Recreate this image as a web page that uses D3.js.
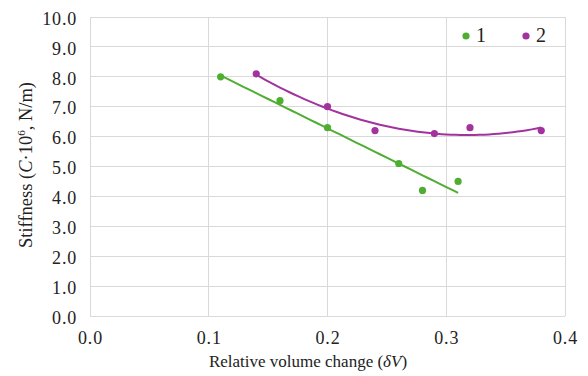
<!DOCTYPE html>
<html><head><meta charset="utf-8">
<script src="https://cdn.jsdelivr.net/npm/d3@7"></script>
</head><body style="margin:0;background:#fff"><svg id="c" width="588" height="376" font-family="Liberation Serif"></svg>
<script>
const xTicks=[0.0,0.1,0.2,0.3,0.4];
const yTicks=[0,1,2,3,4,5,6,7,8,9,10];
const s1x=[0.11,0.16,0.20,0.26,0.28,0.31];
const s1y=[8.0,7.2,6.3,5.1,4.2,4.5];
const s2x=[0.14,0.20,0.24,0.29,0.32,0.38];
const s2y=[8.1,7.0,6.2,6.1,6.3,6.2];
const seriesNames=["1","2"];
const colors=["#4fae32","#a2339e"];
const FF="Liberation Serif", TC="#222";

const svg=d3.select("#c");
const x=d3.scaleLinear().domain([0,0.4]).range([90,565]);
const y=d3.scaleLinear().domain([0,10]).range([316,17]);

svg.append("g").selectAll("line").data(yTicks).join("line")
 .attr("x1",90).attr("x2",565).attr("y1",d=>y(d)).attr("y2",d=>y(d))
 .attr("stroke","#d9d9d9").attr("stroke-width",1).attr("shape-rendering","crispEdges");
svg.append("g").selectAll("line").data(xTicks).join("line")
 .attr("y1",17).attr("y2",316).attr("x1",d=>x(d)).attr("x2",d=>x(d))
 .attr("stroke","#d9d9d9").attr("stroke-width",1).attr("shape-rendering","crispEdges");

const ya=svg.append("g").attr("transform","translate(90,0)")
 .call(d3.axisLeft(y).tickValues(yTicks).tickFormat(d3.format(".1f")).tickSize(0).tickPadding(13));
ya.attr("font-family",FF).attr("font-size",18);
ya.select(".domain").remove();
ya.selectAll("text").attr("font-family",FF).attr("font-size",18).attr("fill",TC).attr("dy","0.4em").attr("letter-spacing",0.8);
const xa=svg.append("g").attr("transform","translate(0,316)")
 .call(d3.axisBottom(x).tickValues(xTicks).tickFormat(d3.format(".1f")).tickSize(0).tickPadding(15));
xa.attr("font-family",FF).attr("font-size",18);
xa.select(".domain").remove();
xa.selectAll("text").attr("font-family",FF).attr("font-size",18).attr("fill",TC).attr("letter-spacing",0.8);

function linfit(xs,ys){const n=xs.length,mx=d3.mean(xs),my=d3.mean(ys);
 let sxy=0,sxx=0;for(let i=0;i<n;i++){sxy+=(xs[i]-mx)*(ys[i]-my);sxx+=(xs[i]-mx)**2;}
 const b=sxy/sxx;return v=>my+b*(v-mx);}
function quadfit(xs,ys){
 const S=k=>d3.sum(xs,v=>v**k), T=k=>d3.sum(xs.map((v,i)=>ys[i]*v**k));
 const A=[[S(0),S(1),S(2),T(0)],[S(1),S(2),S(3),T(1)],[S(2),S(3),S(4),T(2)]];
 for(let i=0;i<3;i++){for(let j=i+1;j<3;j++){const f=A[j][i]/A[i][i];for(let k=i;k<4;k++)A[j][k]-=f*A[i][k];}}
 const c=[0,0,0];for(let i=2;i>=0;i--){let s=A[i][3];for(let k=i+1;k<3;k++)s-=A[i][k]*c[k];c[i]=s/A[i][i];}
 return v=>c[0]+c[1]*v+c[2]*v*v;}
const f1=linfit(s1x,s1y), f2=quadfit(s2x,s2y);
const line=d3.line().x(d=>x(d[0])).y(d=>y(d[1]));
const xs1=d3.range(0,41).map(i=>d3.min(s1x)+(d3.max(s1x)-d3.min(s1x))*i/40);
const xs2=d3.range(0,61).map(i=>d3.min(s2x)+(d3.max(s2x)-d3.min(s2x))*i/60);
svg.append("path").attr("d",line(xs1.map(v=>[v,f1(v)]))).attr("fill","none").attr("stroke",colors[0]).attr("stroke-width",2);
svg.append("path").attr("d",line(xs2.map(v=>[v,f2(v)]))).attr("fill","none").attr("stroke",colors[1]).attr("stroke-width",2);

svg.append("g").selectAll("circle").data(s1x.map((v,i)=>[v,s1y[i]])).join("circle")
 .attr("cx",d=>x(d[0])).attr("cy",d=>y(d[1])).attr("r",3.6).attr("fill",colors[0]);
svg.append("g").selectAll("circle").data(s2x.map((v,i)=>[v,s2y[i]])).join("circle")
 .attr("cx",d=>x(d[0])).attr("cy",d=>y(d[1])).attr("r",3.6).attr("fill",colors[1]);

const lg=[[466,476],[526,536]];
seriesNames.forEach((n,i)=>{
 svg.append("circle").attr("cx",lg[i][0]).attr("cy",36).attr("r",3.6).attr("fill",colors[i]);
 svg.append("text").attr("x",lg[i][1]).attr("y",42).attr("font-family",FF).attr("font-size",20).attr("fill",TC).text(n);
});

const xt=svg.append("text").attr("x",308).attr("y",367).attr("text-anchor","middle").attr("font-family",FF).attr("font-size",17).attr("fill",TC);
xt.append("tspan").text("Relative volume change (");
xt.append("tspan").attr("font-style","italic").text("δV");
xt.append("tspan").text(")");
const yt=svg.append("text").attr("transform","translate(32,165) rotate(-90)").attr("text-anchor","middle").attr("font-family",FF).attr("font-size",18.5).attr("fill",TC);
yt.append("tspan").text("Stiffness (");
yt.append("tspan").attr("font-style","italic").text("C");
yt.append("tspan").text("·10");
yt.append("tspan").attr("font-size",11).attr("dy",-7).text("6");
yt.append("tspan").attr("dy",7).text(", N/m)");
</script></body></html>
